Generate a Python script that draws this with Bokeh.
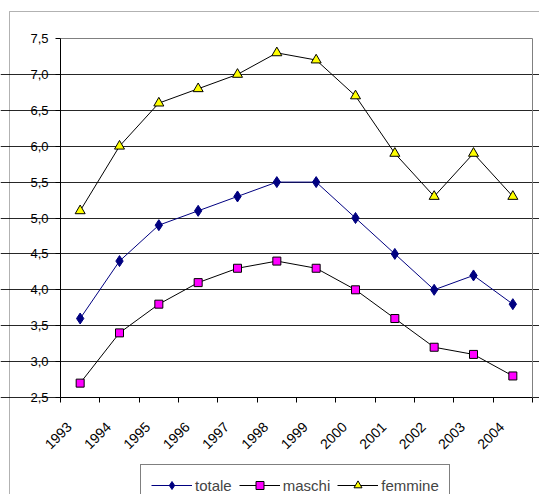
import math
from bokeh.plotting import figure
from bokeh.models import (Range1d, FixedTicker, CustomJSTickFormatter, Legend, LegendItem,
                          BoxAnnotation, LinearAxis)
from bokeh.embed import file_html
from bokeh.resources import INLINE

years = ["1993", "1994", "1995", "1996", "1997", "1998",
         "1999", "2000", "2001", "2002", "2003", "2004"]
totale = [3.6, 4.4, 4.9, 5.1, 5.3, 5.5, 5.5, 5.0, 4.5, 4.0, 4.2, 3.8]
maschi = [2.7, 3.4, 3.8, 4.1, 4.3, 4.4, 4.3, 4.0, 3.6, 3.2, 3.1, 2.8]
femmine = [5.1, 6.0, 6.6, 6.8, 7.0, 7.3, 7.2, 6.7, 5.9, 5.3, 5.9, 5.3]
y_ticks = [2.5, 3.0, 3.5, 4.0, 4.5, 5.0, 5.5, 6.0, 6.5, 7.0, 7.5]

FONT = "Liberation Sans"
W, H = 539, 494
# plot area in canvas pixels
PL, PR, PT, PB = 60, 532, 38, 397

n = len(years)
xs = [i + 0.5 for i in range(n)]
y0, y1 = y_ticks[0], y_ticks[-1]

# ranges chosen so the frame spans the whole canvas and the plot area sits at PL..PR, PT..PB
xu = (PR - PL) / n
yu = (PB - PT) / (y1 - y0)
x_range = Range1d(-PL / xu, n + (W - PR) / xu)
y_range = Range1d(y0 - (H - PB) / yu, y1 + PT / yu)

p = figure(width=W, height=H, output_backend="svg", toolbar_location=None,
           x_range=x_range, y_range=y_range, x_axis_location=None, y_axis_location=None,
           min_border=0)
p.background_fill_color = "white"
p.border_fill_color = "white"
p.outline_line_color = None
p.xgrid.grid_line_color = None

# X axis: tick marks at category boundaries, rotated labels anchored a little left of centre
LABEL_SHIFT = 0.28
xaxis = LinearAxis(fixed_location=y0, bounds=(0, n))
xaxis.ticker = FixedTicker(ticks=[x - LABEL_SHIFT for x in xs], minor_ticks=list(range(n + 1)))
xaxis.formatter = CustomJSTickFormatter(args=dict(years=years),
                                        code="return years[Math.floor(tick)];")
xaxis.major_tick_line_color = None
xaxis.minor_tick_line_color = "black"
xaxis.minor_tick_in = 0
xaxis.minor_tick_out = 5
xaxis.axis_line_color = "black"
xaxis.major_label_orientation = math.pi / 4
xaxis.major_label_text_font = FONT
xaxis.major_label_text_font_size = "14px"
xaxis.major_label_text_color = "black"
xaxis.major_label_standoff = 21
p.add_layout(xaxis, "below")

# Y axis
yaxis = LinearAxis(fixed_location=0, bounds=(y0, y1))
yaxis.ticker = FixedTicker(ticks=y_ticks, minor_ticks=[])
yaxis.formatter = CustomJSTickFormatter(code="return tick.toFixed(1).replace('.', ',');")
yaxis.major_tick_in = 0
yaxis.major_tick_out = 5
yaxis.major_tick_line_color = "black"
yaxis.axis_line_color = "black"
yaxis.major_label_text_font = FONT
yaxis.major_label_text_font_size = "13px"
yaxis.major_label_text_color = "black"
yaxis.major_label_standoff = 7
p.add_layout(yaxis, "left")

# grey plot-area border (top and right)
top_border = LinearAxis(fixed_location=y1, bounds=(0, n), ticker=FixedTicker(ticks=[]),
                        axis_line_color="#808080", major_label_text_font_size="0px",
                        major_tick_line_color=None, minor_tick_line_color=None)
p.add_layout(top_border, "above")
right_border = LinearAxis(fixed_location=n, bounds=(y0, y1), ticker=FixedTicker(ticks=[]),
                          axis_line_color="#808080", major_label_text_font_size="0px",
                          major_tick_line_color=None, minor_tick_line_color=None)
p.add_layout(right_border, "right")

# horizontal gridlines
p.ygrid.ticker = FixedTicker(ticks=y_ticks[:-1])
p.ygrid.bounds = (0, n)
p.ygrid.grid_line_color = "black"
p.ygrid.grid_line_alpha = 0.85
p.ygrid.grid_line_width = 1

# outer chart border
p.add_layout(BoxAnnotation(left=9, right=700, top=11, bottom=700,
                           left_units="canvas", right_units="canvas",
                           top_units="canvas", bottom_units="canvas",
                           fill_alpha=0, line_color="black", line_width=1,
                           level="overlay"))

l1 = p.line(xs, totale, line_color="#000080", line_width=1)
m1 = p.scatter(xs, totale, marker="diamond", size=11, fill_color="#000080",
               line_color="#000080")
l2 = p.line(xs, maschi, line_color="black", line_width=1)
m2 = p.scatter(xs, maschi, marker="square", size=8, fill_color="#FF00FF",
               line_color="black", line_width=1)
l3 = p.line(xs, femmine, line_color="black", line_width=1)
m3 = p.scatter(xs, femmine, marker="triangle", size=10, fill_color="#FFFF00",
               line_color="black", line_width=1)

LEG_LEFT, LEG_TOP, PAD, ROW = 140, 466, 10, 20
legend = Legend(items=[LegendItem(label="totale", renderers=[l1, m1]),
                       LegendItem(label="maschi", renderers=[l2, m2]),
                       LegendItem(label="femmine", renderers=[l3, m3])],
                orientation="horizontal",
                location=(LEG_LEFT, H - (LEG_TOP + 2 * PAD + ROW)),
                glyph_width=41, glyph_height=ROW, label_height=ROW,
                label_standoff=3, spacing=7, padding=PAD, margin=0,
                label_text_font=FONT, label_text_font_size="15px",
                border_line_color="black", border_line_width=1,
                background_fill_color="white", background_fill_alpha=1)
p.add_layout(legend, "center")

open("out.html", "w").write(file_html(p, INLINE))
